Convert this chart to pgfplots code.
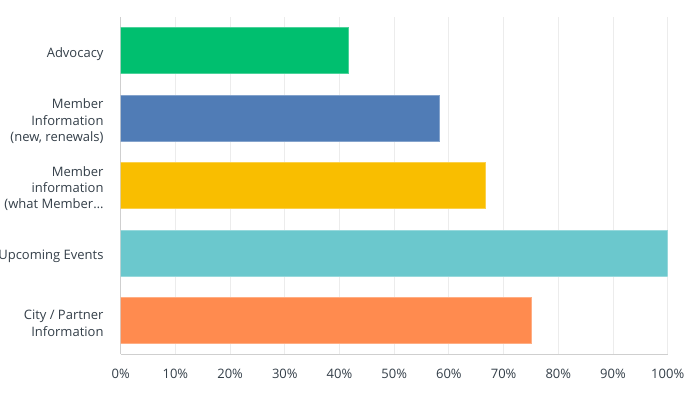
\documentclass[border=0pt]{standalone}
\usepackage{pgfplots}
\pgfplotsset{compat=1.18}
\usepackage{fontspec}
\setmainfont{Open Sans}

\definecolor{smgreen}{HTML}{00BF6F}
\definecolor{smblue}{HTML}{507CB6}
\definecolor{smyellow}{HTML}{F9BE00}
\definecolor{smteal}{HTML}{6BC8CD}
\definecolor{smorange}{HTML}{FF8B4F}
\definecolor{axisgray}{HTML}{CFCFCF}
\definecolor{gridgray}{HTML}{ECECEC}
\definecolor{labeltext}{HTML}{333E48}

\begin{document}
\begin{tikzpicture}
\begin{axis}[
    at={(120.7bp,46bp)}, anchor=south west,
    scale only axis,
    width=547bp, height=337bp,
    xbar, bar width=46bp, bar shift=0pt,
    xmin=0, xmax=100,
    ymin=-0.5, ymax=4.5,
    y dir=reverse,
    axis x line*=bottom, axis y line*=left,
    axis line style={draw=axisgray, line width=1bp},
    major tick length=0pt,
    xmajorgrids, grid style={draw=gridgray, line width=1bp},
    xtick={0,10,...,100},
    xticklabels={0\%,10\%,20\%,30\%,40\%,50\%,60\%,70\%,80\%,90\%,100\%},
    ytick={0,1,2,3,4},
    yticklabels={Advocacy, {Member\\Information\\(new, renewals)}, {Member\\information\\(what Member…}, Upcoming Events, {City / Partner\\Information}},
    yticklabel style={align=right, anchor=east, inner sep=0pt, xshift=-17bp, yshift=-3bp,
        font=\fontsize{13bp}{16.3bp}\selectfont, text=labeltext},
    xticklabel style={anchor=north, inner sep=0pt, yshift=-14.5bp,
        font=\fontsize{13bp}{16bp}\selectfont, text=labeltext},
]
% share of respondents (%)
\addplot[fill=smgreen, draw=smgreen!70!white, line width=0.8bp] coordinates {(41.67,0)};
\addplot[fill=smblue, draw=smblue!70!white, line width=0.8bp] coordinates {(58.33,1)};
\addplot[fill=smyellow, draw=smyellow!70!white, line width=0.8bp] coordinates {(66.67,2)};
\addplot[fill=smteal, draw=smteal!70!white, line width=0.8bp] coordinates {(100,3)};
\addplot[fill=smorange, draw=smorange!70!white, line width=0.8bp] coordinates {(75,4)};
\end{axis}
\pgfresetboundingbox
\useasboundingbox (0,0) rectangle (690bp,400bp);
\end{tikzpicture}
\end{document}
